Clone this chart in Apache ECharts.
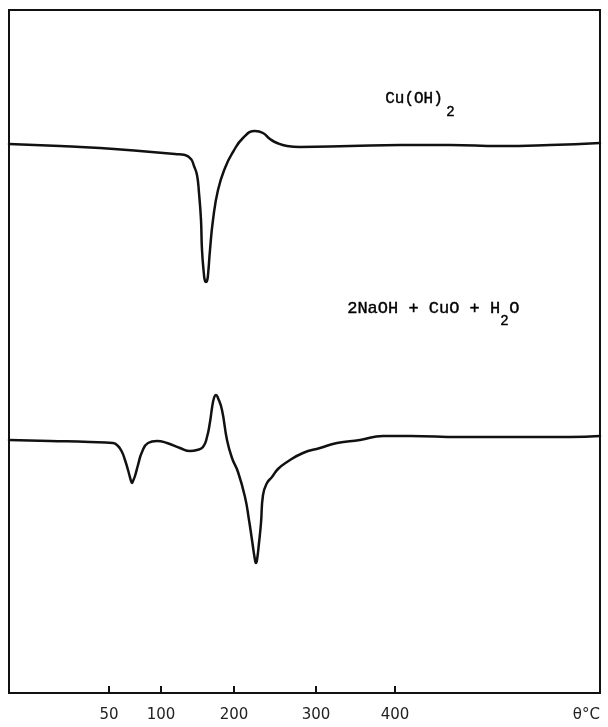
<!DOCTYPE html>
<html>
<head>
<meta charset="utf-8">
<title>DTA</title>
<script src="https://cdn.jsdelivr.net/npm/echarts@6/dist/echarts.min.js"></script>
<style>
    html, body { margin: 0; padding: 0; background: #fff; }
    #main { width: 608px; height: 727px; }
</style>
</head>
<body>
<div id="main"></div>
<script>
// x = position along the chart paper (thermocouple scale is not linear), y = trace height
var tickPos = [100, 152, 225, 307, 386];
var tickTemp = ['50', '100', '200', '300', '400'];
var axisEnd = 591;
var axisUnit = 'θ°C';

// Cu(OH)2 trace
var cuOH2 = [
    [0, 549], [51, 547], [91, 545], [131, 542], [166, 539], [176, 538], [182, 534],
    [185, 527], [188, 518], [190, 500], [192, 473], [193, 443], [195, 418], [196, 412],
    [197, 411], [198, 412], [199, 418], [201, 443], [204, 473], [209, 503], [216, 525],
    [224, 541], [234, 555], [246, 562], [254, 560], [261, 554], [268, 550], [278, 547],
    [291, 546], [341, 547], [391, 548], [441, 548], [491, 547], [541, 548], [591, 550]
];

// 2NaOH + CuO + H2O trace
var naohCuo = [
    [0, 253], [41, 252], [81, 251], [104, 250], [109, 247], [113, 241], [116, 233],
    [119, 223], [122, 212], [123, 210], [124, 212], [126, 217], [129, 228], [133, 241],
    [139, 250], [148, 252], [158, 250], [171, 245], [181, 242], [188, 243], [194, 246],
    [198, 256], [201, 271], [203, 285], [205, 295], [207, 298], [209, 295], [213, 283],
    [218, 253], [223, 235], [229, 221], [236, 196], [240, 173], [243, 153], [246, 133],
    [247, 130], [248, 133], [250, 150], [252, 170], [254, 198], [258, 210], [263, 216],
    [269, 224], [278, 231], [294, 240], [311, 245], [328, 250], [351, 253], [374, 257],
    [401, 257], [451, 256], [511, 256], [561, 256], [591, 257]
];

var chart = echarts.init(document.getElementById('main'));

var labelFont = 'Liberation Mono';
var lineStyle = { color: '#111', width: 2.5, join: 'round', cap: 'round' };

// typewriter text, a bit heavier than the plain font
function label(txt, x, y, size) {
    return {
        type: 'text', left: x, top: y,
        style: { text: txt, font: size + 'px ' + labelFont, fill: '#000', stroke: '#000', lineWidth: 0.4 }
    };
}

var option = {
    animation: false,
    backgroundColor: '#fff',
    grid: {
        left: 9, right: 8, top: 10, bottom: 34,
        show: true,
        borderColor: '#111',
        borderWidth: 2
    },
    xAxis: {
        type: 'value',
        min: 0,
        max: axisEnd,
        splitLine: { show: false },
        axisLine: { show: true, lineStyle: { color: '#111', width: 2 } },
        axisTick: {
            show: true,
            inside: true,
            length: 7,
            customValues: tickPos,
            lineStyle: { color: '#111', width: 2 }
        },
        axisLabel: {
            customValues: tickPos.concat([axisEnd]),
            alignMaxLabel: 'right',
            margin: 15,
            fontFamily: 'DejaVu Sans',
            fontSize: 15,
            color: '#222',
            formatter: function(v) {
                var i = tickPos.indexOf(v);
                if (i >= 0) return tickTemp[i];
                return axisUnit;
            }
        }
    },
    yAxis: {
        type: 'value',
        min: 0,
        max: 683,
        show: false
    },
    series: [{
        name: 'Cu(OH)2',
        type: 'line',
        data: cuOH2,
        smooth: 0.5,
        symbol: 'none',
        lineStyle: lineStyle
    }, {
        name: '2NaOH + CuO + H2O',
        type: 'line',
        data: naohCuo,
        smooth: 0.5,
        symbol: 'none',
        lineStyle: lineStyle
    }],
    // curve names with subscripts
    graphic: [
        label('Cu(OH)', 385, 91, 16),
        label('2', 446, 105, 14),
        label('2NaOH + CuO + H', 347, 300, 17),
        label('2', 500, 314, 14),
        label('O', 509, 300, 17)
    ]
};

chart.setOption(option);
</script>
</body>
</html>
